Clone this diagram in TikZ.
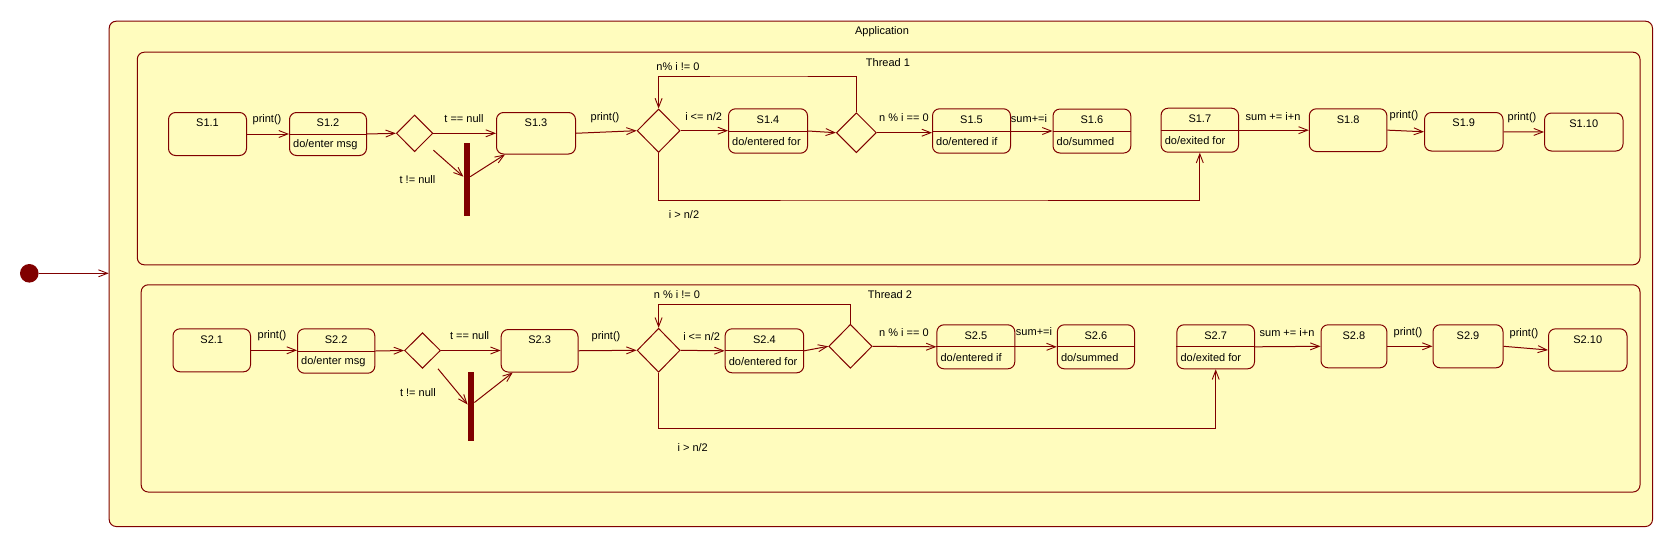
\documentclass[tikz,border=0pt]{standalone}
\usepackage{fontspec}
\setmainfont{Liberation Sans}
\usetikzlibrary{arrows.meta,shapes.geometric}
\definecolor{umlfill}{RGB}{255,252,190}
\definecolor{umlline}{RGB}{128,0,0}
\tikzset{
 stbox/.style={draw=umlline, line width=1pt, rounded corners=7pt, fill=umlfill, inner sep=0pt},
 lbl/.style={font=\fontsize{11}{13}\selectfont, inner sep=0pt, text=black},
 tr/.style={draw=umlline, line width=1pt, -{Straight Barb[length=9pt,width=7pt,line width=0.9pt]}},
 ln/.style={draw=umlline, line width=1pt},
 choice/.style={diamond, draw=umlline, line width=1pt, fill=umlfill, inner sep=0pt},
 forkbar/.style={fill=umlline, draw=none, inner sep=0pt, minimum width=6.4pt},
}
\newcommand{\mkstate}[6]{%
 \pgfmathsetmacro\stw{(#4)-(#2)}%
 \pgfmathsetmacro\sth{(#5)-(#3)}%
 \node[stbox, anchor=north west, minimum width=\stw pt, minimum height=\sth pt] (#1) at (#2,#3) {};
 \node[lbl] (#1n) at ([yshift=-11pt]#1.north) {#6};}
\newcommand{\mkcstate}[7]{%
 \mkstate{#1}{#2}{#3}{#4}{#5}{#6}
 \draw[ln] (#1.west) -- (#1.east);
 \node[lbl, anchor=west] (#1d) at ([xshift=4pt,yshift=-10.5pt]#1.west) {#7};}
\begin{document}
\begin{tikzpicture}[x=1pt,y=-1pt]
\useasboundingbox (0,0) rectangle (1673,547);
% containers
\node[stbox, anchor=north west, minimum width=1543.3pt, minimum height=505.3pt] (app) at (108.7,20.7) {};
\node[lbl] (appl) at (882,32) {Application};
\node[stbox, anchor=north west, minimum width=1502.7pt, minimum height=212.6pt] (th1) at (136.8,51.7) {};
\node[lbl] (th1l) at (888,62.3) {Thread 1};
\node[stbox, anchor=north west, minimum width=1498.8pt, minimum height=207.2pt] (th2) at (140.7,284.3) {};
\node[lbl] (th2l) at (890,295) {Thread 2};
% initial
\node[circle, fill=umlline, draw=none, minimum size=18.6pt, inner sep=0pt] (init) at (29.3,273.3) {};
\draw[tr] (init) -- (init -| app.west);

% ---------------- Thread 1 ----------------
\mkstate{s11}{168}{112}{246}{155}{S1.1}
\mkcstate{s12}{289}{112}{366}{155}{S1.2}{do/enter msg}
\node[choice, minimum width=36.5pt, minimum height=36.7pt] (d11) at (414.6,133.3) {};
\mkstate{s13}{496}{112}{575}{153.5}{S1.3}
\node[forkbar, minimum height=73.3pt] (bar1) at (466.8,179.3) {};
\node[choice, minimum width=43pt, minimum height=43.4pt] (d12) at (658.6,130.7) {};
\mkcstate{s14}{728}{108.3}{807}{152.7}{S1.4}{do/entered for}
\node[choice, minimum width=40pt, minimum height=40pt] (d13) at (856.4,132.7) {};
\mkcstate{s15}{932}{108.3}{1010}{152.7}{S1.5}{do/entered if}
\mkcstate{s16}{1052.5}{108.5}{1130.3}{152.5}{S1.6}{do/summed}
\mkcstate{s17}{1160.6}{107.7}{1238}{151.7}{S1.7}{do/exited for}
\mkstate{s18}{1308.8}{108.3}{1386.4}{151}{S1.8}
\mkstate{s19}{1424}{112}{1502.5}{150.5}{S1.9}
\mkstate{s110}{1544}{112.5}{1622.5}{150.5}{S1.10}

\draw[tr] (s11.east) -- (s12.west);
\node[lbl] (t1a) at (267,119.3) {print()};
\draw[tr] (s12.east) -- (d11.west);
\draw[tr] (d11.east) -- (d11.east -| s13.west);
\node[lbl] (t1b) at (464,119) {t == null};
\draw[tr] ([yshift=2pt]d11.east |- d11.south) -- ([yshift=2.6pt]bar1.west);
\node[lbl] (t1c) at (417.5,180) {t != null};
\draw[tr] ([yshift=2.6pt]bar1.east) -- ([xshift=9pt]s13.south west);
\draw[tr] (s13.east) -- (d12.west);
\node[lbl] (t1d) at (605,117.7) {print()};
\draw[tr] (d12.east) -- (d12.east -| s14.west);
\node[lbl] (t1e) at (703.6,116.7) {i <= n/2};
\draw[tr] (s14.east) -- (d13.west);
\coordinate (lp1) at (760,76);
\draw[tr] (d13.north) |- (lp1) -| (d12.north);
\node[lbl] (t1f) at (678,66.7) {n\% i != 0};
\draw[tr] (d13.east) -- (d13.east -| s15.west);
\node[lbl] (t1g) at (904,117.7) {n \% i == 0};
\draw[tr] (s15.east) -- (s16.west);
\node[lbl] (t1h) at (1029,119) {sum+=i};
\coordinate (bp1) at (900,200);
\draw[tr] (d12.south) |- (bp1) -| (s17.south);
\node[lbl] (t1i) at (684,215) {i > n/2};
\draw[tr] (s17.east) -- (s17.east -| s18.west);
\node[lbl] (t1j) at (1273,116.7) {sum += i+n};
\draw[tr] (s18.east) -- (s19.west);
\node[lbl] (t1k) at (1404,116) {print()};
\draw[tr] (s19.east) -- (s110.west);
\node[lbl] (t1l) at (1522,117.7) {print()};

% ---------------- Thread 2 ----------------
\mkstate{s21}{172.5}{328.3}{250}{371.3}{S2.1}
\mkcstate{s22}{297}{328.3}{374.3}{372.7}{S2.2}{do/enter msg}
\node[choice, minimum width=36pt, minimum height=35.6pt] (d21) at (422.5,350.5) {};
\mkstate{s23}{500.7}{329}{577.5}{371.5}{S2.3}
\node[forkbar, minimum height=68.4pt] (bar2) at (471,406.5) {};
\node[choice, minimum width=43pt, minimum height=44pt] (d22) at (658.6,350.3) {};
\mkcstate{s24}{724.6}{328.3}{803.2}{372.3}{S2.4}{do/entered for}
\node[choice, minimum width=43.4pt, minimum height=44pt] (d23) at (850.4,346.3) {};
\mkcstate{s25}{936.4}{324.3}{1014.3}{368.3}{S2.5}{do/entered if}
\mkcstate{s26}{1056.8}{324.3}{1134}{368.3}{S2.6}{do/summed}
\mkcstate{s27}{1176.4}{324.3}{1254}{368.3}{S2.7}{do/exited for}
\mkstate{s28}{1320.5}{324.3}{1386.4}{367.3}{S2.8}
\mkstate{s29}{1432.5}{324.3}{1502.5}{367.3}{S2.9}
\mkstate{s210}{1548}{328.3}{1626.5}{370.7}{S2.10}

\draw[tr] (s21.east) -- (s21.east -| s22.west);
\node[lbl] (t2a) at (272,336) {print()};
\draw[tr] (s22.east) -- (d21.west);
\draw[tr] (d21.east) -- (d21.east -| s23.west);
\node[lbl] (t2b) at (469.6,336) {t == null};
\draw[tr] ([xshift=-3pt]d21.east |- d21.south) -- ([yshift=2pt]bar2.west);
\node[lbl] (t2c) at (417.9,392.7) {t != null};
\draw[tr] ([yshift=4pt]bar2.east) -- ([xshift=12pt]s23.south west);
\draw[tr] (s23.east) -- (d22.west);
\node[lbl] (t2d) at (606,336.7) {print()};
\draw[tr] (d22.east) -- (s24.west);
\node[lbl] (t2e) at (701.6,336.7) {i <= n/2};
\draw[tr] (s24.east) -- (d23.west);
\coordinate (lp2) at (760,304.3);
\draw[tr] (d23.north) |- (lp2) -| (d22.north);
\node[lbl] (t2f) at (677,295) {n \% i != 0};
\draw[tr] (d23.east) -- (s25.west);
\node[lbl] (t2g) at (904,332.3) {n \% i == 0};
\draw[tr] (s25.east) -- (s26.west);
\node[lbl] (t2h) at (1034,331.7) {sum+=i};
\coordinate (bp2) at (900,428.3);
\draw[tr] (d22.south) |- (bp2) -| (s27.south);
\node[lbl] (t2i) at (692.7,447.7) {i > n/2};
\draw[tr] (s27.east) -- (s28.west);
\node[lbl] (t2j) at (1287,332.3) {sum += i+n};
\draw[tr] (s28.east) -- (s29.west);
\node[lbl] (t2k) at (1408,332.3) {print()};
\draw[tr] (s29.east) -- (s210.west);
\node[lbl] (t2l) at (1524,334) {print()};
\end{tikzpicture}
\end{document}
